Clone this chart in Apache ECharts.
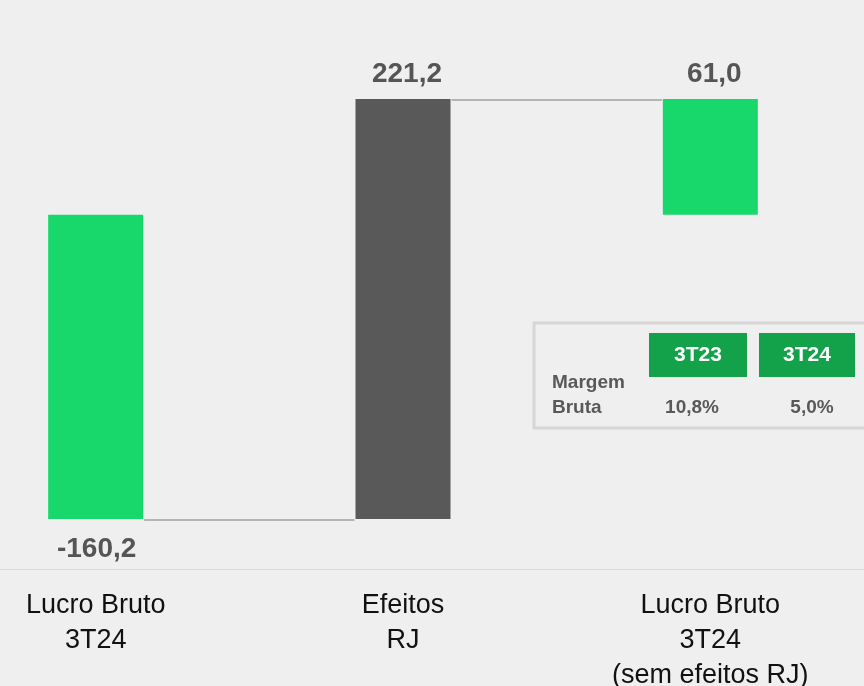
<!DOCTYPE html>
<html>
<head>
<meta charset="utf-8">
<script src="https://cdn.jsdelivr.net/npm/echarts@6/dist/echarts.min.js"></script>
<style>
html,body{margin:0;padding:0;background:#efefef;}
#chart{width:864px;height:686px;}
</style>
</head>
<body>
<div id="chart"></div>
<script>
// ---- data ----
const categories = ['Lucro Bruto\n3T24', 'Efeitos\nRJ', 'Lucro Bruto\n3T24\n(sem efeitos RJ)'];
const values = [-160.2, 221.2, 61.0];
const isTotal = [false, false, true];
const barColors = ['#19d86b', '#595959', '#19d86b'];
const tableHeaders = ['3T23', '3T24'];
const tableRowLabel = 'Margem\nBruta';
const tableValues = ['10,8%', '5,0%'];

// ---- derived waterfall levels ----
const bases = [];
const ends = [];
let running = 0;
values.forEach((v, i) => {
  if (isTotal[i]) { bases.push(0); ends.push(v); running = v; }
  else { bases.push(running); running += v; ends.push(running); }
});
const fmt = v => v.toFixed(1).replace('.', ',');

const FONT = '"Liberation Sans", Arial, sans-serif';
const chart = echarts.init(document.getElementById('chart'));

const option = {
  backgroundColor: '#efefef',
  animation: false,
  grid: { left: -58, right: 0, top: 1, bottom: 117, containLabel: false, outerBoundsMode: 'none' },
  xAxis: {
    type: 'category',
    data: categories,
    axisLine: { show: true, onZero: false, lineStyle: { color: '#d9d9d9', width: 1 } },
    axisTick: { show: false },
    axisLabel: { color: '#111', fontFamily: FONT, fontSize: 27, lineHeight: 35, margin: 19, interval: 0 }
  },
  yAxis: {
    type: 'value', min: -186.5, max: 112.6, show: false,
    splitLine: { show: false }
  },
  series: [
    {
      type: 'bar', stack: 'wf', stackStrategy: 'all', barWidth: 95,
      itemStyle: { color: 'transparent' },
      data: bases, silent: true
    },
    {
      type: 'bar', stack: 'wf', stackStrategy: 'all', barWidth: 95,
      data: values.map((v, i) => ({ value: v, itemStyle: { color: barColors[i] } }))
    },
    {
      type: 'custom',
      renderItem: function (params, api) {
        const i = params.dataIndex;
        if (i >= values.length - 1) return null;
        const level = ends[i];
        const p1 = api.coord([i, level]);
        const p2 = api.coord([i + 1, level]);
        const half = 95 / 2;
        return {
          type: 'line',
          shape: { x1: p1[0] + half + 1, y1: p1[1] + 1, x2: p2[0] - half - 1, y2: p2[1] + 1 },
          style: { stroke: '#a0a0a0', lineWidth: 1.5 }
        };
      },
      data: values.map((v, i) => [i, ends[i]]),
      z: 5
    },
    {
      type: 'scatter', symbolSize: 0,
      itemStyle: { opacity: 1 },
      data: values.map((v, i) => ({
        value: [i, ends[i]],
        label: { position: v < 0 ? 'bottom' : 'top', distance: v < 0 ? 16 : 11, offset: v < 0 ? [1, 0] : [4, 0] }
      })),
      label: {
        show: true, fontFamily: FONT, fontWeight: 'bold', fontSize: 28, color: '#555555', opacity: 1,
        formatter: p => fmt(values[p.dataIndex])
      },
      z: 6
    }
  ],
  graphic: [
    { type: 'rect', shape: { x: 534, y: 323, width: 340, height: 105 },
      style: { fill: 'transparent', stroke: '#d6d6d6', lineWidth: 3 } },
    { type: 'rect', shape: { x: 649, y: 333, width: 98, height: 44 }, style: { fill: '#13a14a' } },
    { type: 'rect', shape: { x: 759, y: 333, width: 96, height: 44 }, style: { fill: '#13a14a' } },
    { type: 'text', x: 698, y: 355, style: { text: tableHeaders[0], fill: '#ffffff', font: 'bold 21px ' + FONT, align: 'center', verticalAlign: 'middle' } },
    { type: 'text', x: 807, y: 355, style: { text: tableHeaders[1], fill: '#ffffff', font: 'bold 21px ' + FONT, align: 'center', verticalAlign: 'middle' } },
    { type: 'text', x: 552, y: 395.5, style: { text: tableRowLabel, fill: '#595959', font: 'bold 19px ' + FONT, lineHeight: 25, align: 'left', verticalAlign: 'middle' } },
    { type: 'text', x: 692, y: 408, style: { text: tableValues[0], fill: '#595959', font: 'bold 19px ' + FONT, align: 'center', verticalAlign: 'middle' } },
    { type: 'text', x: 812, y: 408, style: { text: tableValues[1], fill: '#595959', font: 'bold 19px ' + FONT, align: 'center', verticalAlign: 'middle' } }
  ]
};
chart.setOption(option);
</script>
</body>
</html>
